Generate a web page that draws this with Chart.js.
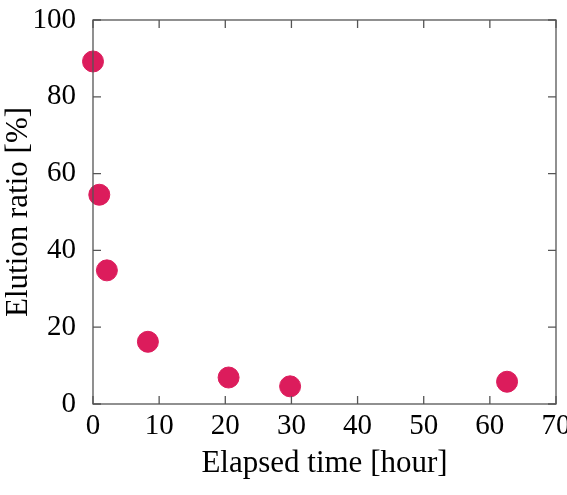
<!DOCTYPE html>
<html>
<head>
<meta charset="utf-8">
<script src="https://cdn.jsdelivr.net/npm/chart.js@4"></script>
<style>
  html, body { margin: 0; padding: 0; background: #fff; overflow: hidden; }
  #wrap { position: relative; width: 580px; height: 495px; }
</style>
</head>
<body>
<div id="wrap"><canvas id="elutionChart"></canvas></div>
<script>
const elapsedHours = [0, 0.95, 2.1, 8.3, 20.5, 29.8, 62.6];
const elutionRatio = [89.2, 54.5, 34.8, 16.2, 6.9, 4.6, 5.8];
const xTicks = [0, 10, 20, 30, 40, 50, 60, 70];
const yTicks = [0, 20, 40, 60, 80, 100];

const serif = "'Liberation Serif', 'DejaVu Serif', serif";

// gnuplot-like frame with inward ticks on all four sides
const framePlugin = {
  id: "frame",
  afterDatasetsDraw(chart) {
    const { ctx, chartArea: a, scales } = chart;
    const len = 8;
    ctx.save();
    ctx.strokeStyle = "#555";
    ctx.lineWidth = 1.3;
    ctx.strokeRect(a.left, a.top, a.right - a.left, a.bottom - a.top);
    ctx.beginPath();
    xTicks.forEach((v) => {
      const px = scales.x.getPixelForValue(v);
      ctx.moveTo(px, a.bottom);
      ctx.lineTo(px, a.bottom - len);
      ctx.moveTo(px, a.top);
      ctx.lineTo(px, a.top + len);
    });
    yTicks.forEach((v) => {
      const py = scales.y.getPixelForValue(v);
      ctx.moveTo(a.left, py);
      ctx.lineTo(a.left + len, py);
      ctx.moveTo(a.right, py);
      ctx.lineTo(a.right - len, py);
    });
    ctx.stroke();
    ctx.restore();
  },
};

const ctx = document.getElementById("elutionChart").getContext("2d");
new Chart(ctx, {
  type: "scatter",
  data: {
    datasets: [
      {
        data: elapsedHours.map((x, i) => ({ x: x, y: elutionRatio[i] })),
        backgroundColor: "#dc1c5c",
        borderColor: "#dc1c5c",
        pointRadius: 10.5,
        pointHoverRadius: 10.5,
        clip: false,
      },
    ],
  },
  options: {
    responsive: true,
    maintainAspectRatio: false,
    animation: false,
    events: [],
    layout: { padding: { left: 0, top: 20, right: 24, bottom: 0 } },
    plugins: {
      legend: { display: false },
      tooltip: { enabled: false },
    },
    scales: {
      x: {
        type: "linear",
        min: 0,
        max: 70,
        afterBuildTicks: (s) => { s.ticks = xTicks.map((v) => ({ value: v })); },
        afterFit: (s) => {
          s.height = 91;
          s.paddingLeft = 0;
          s.paddingRight = 0;
        },
        grid: { display: false, drawTicks: false },
        border: { display: false },
        ticks: {
          color: "#000",
          padding: 5,
          maxRotation: 0,
          font: { family: serif, size: 29 },
        },
        title: {
          display: true,
          text: "Elapsed time [hour]",
          color: "#000",
          padding: { top: 0, bottom: 13 },
          font: { family: serif, size: 31 },
        },
      },
      y: {
        type: "linear",
        min: 0,
        max: 100,
        afterBuildTicks: (s) => { s.ticks = yTicks.map((v) => ({ value: v })); },
        afterFit: (s) => {
          s.width = 93;
          s.paddingTop = 0;
          s.paddingBottom = 0;
        },
        grid: { display: false, drawTicks: false },
        border: { display: false },
        ticks: {
          color: "#000",
          padding: 17,
          font: { family: serif, size: 29 },
        },
        title: {
          display: true,
          text: "Elution ratio [%]",
          color: "#000",
          padding: { top: 0, bottom: 0 },
          font: { family: serif, size: 31 },
        },
      },
    },
  },
  plugins: [framePlugin],
});
</script>
</body>
</html>
